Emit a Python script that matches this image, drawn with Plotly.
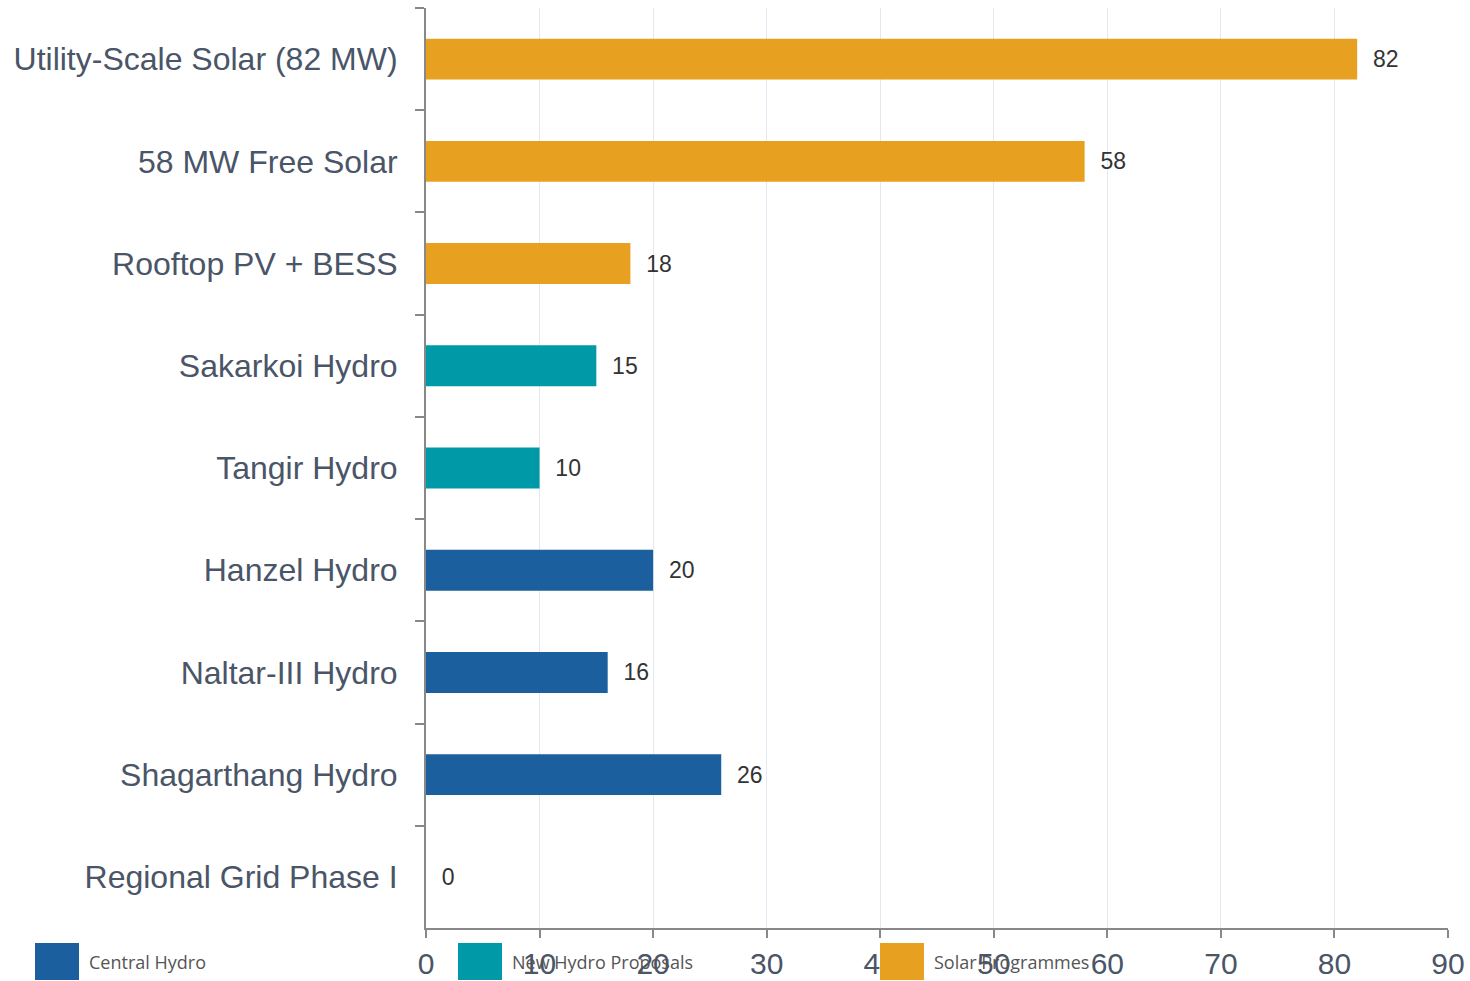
import plotly.graph_objects as go

categories = ["Utility-Scale Solar (82 MW)", "58 MW Free Solar", "Rooftop PV + BESS",
              "Sakarkoi Hydro", "Tangir Hydro", "Hanzel Hydro", "Naltar-III Hydro",
              "Shagarthang Hydro", "Regional Grid Phase I"]
groups = ["Central Hydro", "New Hydro Proposals", "Solar Programmes"]
group_of = ["Solar Programmes", "Solar Programmes", "Solar Programmes",
            "New Hydro Proposals", "New Hydro Proposals",
            "Central Hydro", "Central Hydro", "Central Hydro", "Central Hydro"]
values = [82, 58, 18, 15, 10, 20, 16, 26, 0]
x_ticks = [0, 10, 20, 30, 40, 50, 60, 70, 80, 90]

colors = {"Central Hydro": "#1B5F9E", "New Hydro Proposals": "#0099A8", "Solar Programmes": "#E8A021"}

W, H = 1470, 981
L, R, T, B = 426, 1448, 8, 928

fig = go.Figure()
for g in groups:
    ys = [c for c, gg in zip(categories, group_of) if gg == g]
    xs = [v for v, gg in zip(values, group_of) if gg == g]
    fig.add_trace(go.Bar(
        y=ys, x=xs, orientation="h", name=g, width=0.4,
        marker=dict(color=colors[g], line=dict(width=0)),
        text=xs, texttemplate="  %{x}", textposition="outside",
        textfont=dict(family="Liberation Sans, Arial", size=23, color="#333333"),
        cliponaxis=False, showlegend=False,
    ))

def px_x(p):
    return (p - L) / (R - L)

def px_y(p):
    return (B - p) / (B - T)

shapes = []
annotations = []
legend_x = [35, 458, 880]
for g, lx in zip(groups, legend_x):
    shapes.append(dict(type="rect", xref="paper", yref="paper",
                       x0=px_x(lx), x1=px_x(lx + 44), y0=px_y(980), y1=px_y(943),
                       fillcolor=colors[g], line=dict(width=0), layer="above"))
    annotations.append(dict(xref="paper", yref="paper", x=px_x(lx + 52), y=px_y(962),
                            text=g, showarrow=False, xanchor="left", yanchor="middle",
                            font=dict(family="Open Sans, Noto Sans", size=18, color="#555555")))

fig.update_layout(
    width=W, height=H,
    margin=dict(l=L, r=W - R, t=T, b=H - B, pad=0, autoexpand=False),
    paper_bgcolor="white", plot_bgcolor="white",
    barmode="overlay",
    bargap=0.6,
    shapes=shapes, annotations=annotations,
    xaxis=dict(range=[0, 90], tickvals=x_ticks, ticktext=[str(t) for t in x_ticks],
               showgrid=True, gridcolor="#E3E8F0", gridwidth=1,
               showline=True, linecolor="#888888", linewidth=2,
               ticks="outside", ticklen=8, tickcolor="#888888", tickwidth=2,
               tickfont=dict(family="Liberation Sans, Arial", size=30, color="#4A5568"),
               zeroline=False, fixedrange=True, ticklabelstandoff=0, automargin=False),
    yaxis=dict(categoryorder="array", categoryarray=categories, autorange="reversed",
               showgrid=False, showline=True, linecolor="#888888", linewidth=2,
               ticks="outside", ticklen=9, tickcolor="#888888", tickwidth=2,
               tickson="boundaries", automargin=False,
               tickfont=dict(family="Liberation Sans, Arial", size=32, color="#4A5568"),
               ticklabelstandoff=20),
)

fig.write_html("out.html")
